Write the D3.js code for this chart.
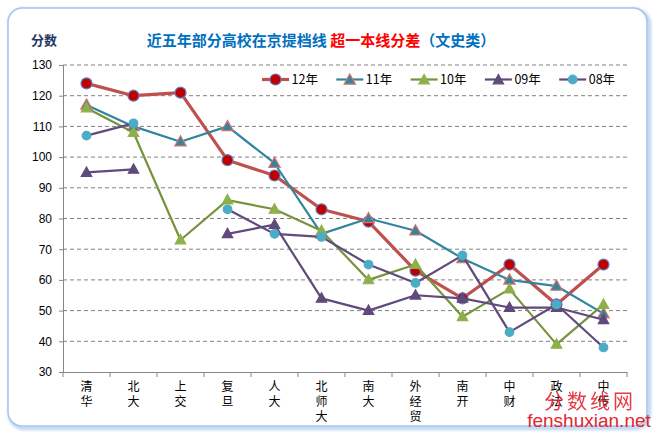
<!DOCTYPE html>
<html>
<head>
<meta charset="utf-8">
<script src="https://cdn.jsdelivr.net/npm/d3@7"></script>
<style>
  body { margin: 0; background: #fff; }
  svg { display: block; font-family: "Liberation Sans", Arial, sans-serif; }
  .cjk { font-family: "Noto Sans CJK SC", sans-serif; }
</style>
</head>
<body>
<div id="chart"></div>
<script>
// Data
var schools = ["清华", "北大", "上交", "复旦", "人大", "北师大", "南大", "外经贸", "南开", "中财", "政法", "中传"];
var years = ["12年", "11年", "10年", "09年", "08年"];
var y12 = [124, 120, 121, 99, 94, 83, 79, 63, 54, 65, 52, 65];
var y11 = [117, 110, 105, 110, 98, 75, 80, 76, 67, 60, 58, 49];
var y10 = [116, 108, 73, 86, 83, 76, 60, 65, 48, 57, 39, 52];
var y09 = [95, 96, null, 75, 78, 54, 50, 55, 54, 51, 51, 47];
var y08 = [107, 111, null, 83, 75, 74, 65, 59, 68, 43, 52, 38];
var yTicks = [30, 40, 50, 60, 70, 80, 90, 100, 110, 120, 130];

// Series styles
var series = [
  {name: years[0], values: y12, line: "#C0504D", lw: 3.2, shape: "circle", fill: "#C00000", stroke: "#5B7FC0", size: 5.5},
  {name: years[1], values: y11, line: "#31859C", lw: 2.2, shape: "triangle", fill: "#31859C", stroke: "#D9716E", size: 6},
  {name: years[2], values: y10, line: "#77933C", lw: 2.2, shape: "triangle", fill: "#8EB04A", stroke: "#8EB04A", size: 5.5},
  {name: years[3], values: y09, line: "#604A7B", lw: 2.2, shape: "triangle", fill: "#604A7B", stroke: "#604A7B", size: 5.5},
  {name: years[4], values: y08, line: "#604A7B", lw: 2.2, shape: "circle", fill: "#4BACC6", stroke: "#4BACC6", size: 4.3}
];

var W = 657, H = 438;
var plot = {left: 63, right: 627, top: 65, bottom: 372};

var svg = d3.select("#chart").append("svg")
    .attr("width", W)
    .attr("height", H);

// Frame with soft blue glow
var defs = svg.append("defs");
var glow = defs.append("filter").attr("id", "glow")
    .attr("x", "-5%").attr("y", "-5%").attr("width", "110%").attr("height", "110%");
glow.append("feGaussianBlur").attr("in", "SourceGraphic").attr("stdDeviation", 1.5);

svg.append("rect")
    .attr("x", 10).attr("y", 10).attr("width", 639).attr("height", 418)
    .attr("rx", 14)
    .attr("fill", "none")
    .attr("stroke", "#B9D3F2")
    .attr("stroke-width", 4)
    .attr("filter", "url(#glow)");
svg.append("rect")
    .attr("x", 8).attr("y", 8).attr("width", 639).attr("height", 418)
    .attr("rx", 14)
    .attr("fill", "#fff")
    .attr("stroke", "#A4C4EC")
    .attr("stroke-width", 1.5);

// Scales
var x = d3.scaleBand()
    .domain(schools)
    .range([plot.left, plot.right]);

var y = d3.scaleLinear()
    .domain([30, 130])
    .range([plot.bottom, plot.top]);

// Gridlines
svg.append("g")
    .selectAll("line")
    .data(yTicks.filter(function(d) { return d > 30; }))
    .enter().append("line")
    .attr("x1", plot.left).attr("x2", plot.right)
    .attr("y1", function(d) { return y(d); })
    .attr("y2", function(d) { return y(d); })
    .attr("stroke", "#808080")
    .attr("stroke-width", 1)
    .attr("stroke-dasharray", "4,3");

// Y axis
var yAxis = svg.append("g")
    .attr("transform", "translate(" + plot.left + ",0)")
    .call(d3.axisLeft(y).tickValues(yTicks).tickSize(4).tickPadding(7));
yAxis.select(".domain").attr("stroke", "#868686");
yAxis.selectAll(".tick line").attr("stroke", "#868686");
yAxis.selectAll("text").attr("font-size", 12).attr("fill", "#000");

// X axis
var xAxis = svg.append("g")
    .attr("transform", "translate(0," + plot.bottom + ")")
    .call(d3.axisBottom(x).tickSize(0).tickFormat(""));
xAxis.select(".domain").attr("stroke", "#868686");

var xTicks = schools.map(function(d) { return x(d); }).concat([plot.right]);
svg.append("g").selectAll("line")
    .data(xTicks)
    .enter().append("line")
    .attr("x1", function(d) { return d; })
    .attr("x2", function(d) { return d; })
    .attr("y1", plot.bottom)
    .attr("y2", plot.bottom + 5)
    .attr("stroke", "#868686");

// Vertical category labels, one character per row
var xLab = svg.append("g").attr("class", "cjk");
schools.forEach(function(s) {
  var t = xLab.append("text")
      .attr("x", x(s) + x.bandwidth() / 2)
      .attr("y", plot.bottom + 19)
      .attr("text-anchor", "middle")
      .attr("font-size", 12)
      .attr("fill", "#000");
  s.split("").forEach(function(c, i) {
    t.append("tspan")
        .attr("x", x(s) + x.bandwidth() / 2)
        .attr("dy", i === 0 ? 0 : 15)
        .text(c);
  });
});

// Marker helpers
function drawMarker(g, s, cx, cy) {
  if (s.shape === "circle") {
    g.append("circle")
        .attr("cx", cx).attr("cy", cy).attr("r", s.size)
        .attr("fill", s.fill)
        .attr("stroke", s.stroke)
        .attr("stroke-width", 1.2);
  } else {
    var r = s.size;
    g.append("path")
        .attr("d", "M" + cx + "," + (cy - r) + "L" + (cx + r * 0.95) + "," + (cy + r * 0.7) +
                   "L" + (cx - r * 0.95) + "," + (cy + r * 0.7) + "Z")
        .attr("fill", s.fill)
        .attr("stroke", s.stroke)
        .attr("stroke-width", 1.2);
  }
}

// Lines and markers
var line = d3.line()
    .defined(function(d) { return d != null; })
    .x(function(d, i) { return x(schools[i]) + x.bandwidth() / 2; })
    .y(function(d) { return y(d); });

series.forEach(function(s) {
  var g = svg.append("g");
  g.append("path")
      .datum(s.values)
      .attr("d", line)
      .attr("fill", "none")
      .attr("stroke", s.line)
      .attr("stroke-width", s.lw)
      .attr("stroke-linejoin", "round");
  s.values.forEach(function(v, i) {
    if (v == null) return;
    drawMarker(g, s, x(schools[i]) + x.bandwidth() / 2, y(v));
  });
});

// Legend
var legend = svg.append("g");
series.forEach(function(s, i) {
  var lx = 262 + i * 74.3, ly = 79.5;
  legend.append("line")
      .attr("x1", lx).attr("x2", lx + 27)
      .attr("y1", ly).attr("y2", ly)
      .attr("stroke", s.line)
      .attr("stroke-width", s.lw);
  drawMarker(legend, s, lx + 13.5, ly + (s.shape === "triangle" ? 0.5 : 0));
  legend.append("text")
      .attr("class", "cjk")
      .attr("x", lx + 29.5)
      .attr("y", ly + 4.5)
      .attr("font-size", 12.5)
      .attr("fill", "#000")
      .text(s.name);
});

// Title and axis caption
var title = svg.append("text")
    .attr("class", "cjk")
    .attr("x", 321)
    .attr("y", 46)
    .attr("text-anchor", "middle")
    .attr("font-size", 15)
    .attr("font-weight", "bold");
title.append("tspan").attr("fill", "#0070C0").text("近五年部分高校在京提档线 ");
title.append("tspan").attr("fill", "#FF0000").text("超一本线分差");
title.append("tspan").attr("fill", "#0070C0").text("（文史类）");

svg.append("text")
    .attr("class", "cjk")
    .attr("x", 31)
    .attr("y", 45)
    .attr("font-size", 13)
    .attr("font-weight", "bold")
    .attr("fill", "#1F3864")
    .text("分数");

// Watermark
svg.append("text")
    .attr("class", "cjk")
    .attr("x", 590)
    .attr("y", 409)
    .attr("text-anchor", "middle")
    .attr("font-size", 20)
    .attr("letter-spacing", 3)
    .attr("fill", "#E3262E")
    .attr("opacity", 0.9)
    .text("分数线网");
svg.append("text")
    .attr("x", 589)
    .attr("y", 427)
    .attr("text-anchor", "middle")
    .attr("font-size", 19)
    .attr("fill", "#E3262E")
    .text("fenshuxian.net");
</script>
</body>
</html>
